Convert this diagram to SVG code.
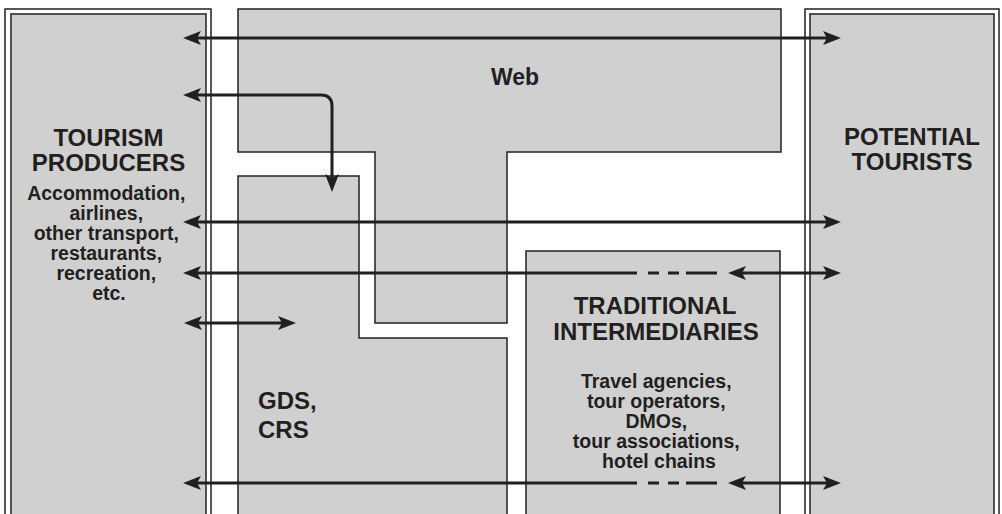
<svg xmlns="http://www.w3.org/2000/svg" width="1002" height="514" viewBox="0 0 1002 514">
<style>
.box{fill:#d0d0d0;stroke:#231f20;stroke-width:1.5}
.frame{fill:none;stroke:#231f20;stroke-width:1.5}
.t{font-family:"Liberation Sans",Arial,sans-serif;font-weight:bold;fill:#231f20}
.h{font-size:24px}
.s{font-size:19.5px}
.c{stroke:#231f20;stroke-width:3;fill:none}
</style>
<defs>
<marker id="ah" viewBox="0 0 18 14" refX="8" refY="7" markerWidth="18" markerHeight="14" markerUnits="userSpaceOnUse" orient="auto-start-reverse">
<path d="M0,0 L18,7 L0,14 L4,7 Z" fill="#231f20"/>
</marker>
</defs>
<rect width="1002" height="514" fill="#ffffff"/>
<g id="producers">
<rect class="frame" x="5" y="9" width="206" height="520"/>
<rect class="box" x="11" y="14" width="195" height="520"/>
<text class="t h" text-anchor="middle" x="108.5" y="146">TOURISM</text>
<text class="t h" text-anchor="middle" x="108.5" y="171">PRODUCERS</text>
<text class="t s" text-anchor="middle" x="109">
<tspan x="109" y="200">Accommodation,</tspan>
<tspan x="109" y="220">airlines,</tspan>
<tspan x="109" y="240">other transport,</tspan>
<tspan x="109" y="260">restaurants,</tspan>
<tspan x="109" y="280">recreation,</tspan>
<tspan x="109" y="300">etc.</tspan>
</text>
</g>
<g id="tourists">
<rect class="frame" x="805" y="9" width="194" height="520"/>
<rect class="box" x="810" y="14" width="184" height="520"/>
<text class="t h" text-anchor="middle" x="912" y="145">POTENTIAL</text>
<text class="t h" text-anchor="middle" x="912" y="170">TOURISTS</text>
</g>
<g id="web">
<path class="box" d="M238,9 H781 V152 H507 V323 H375 V152 H238 Z"/>
<text class="t" font-size="23" text-anchor="middle" x="515" y="85">Web</text>
</g>
<g id="gds">
<path class="box" d="M238,530 V176 H359 V338 H507 V530"/>
<text class="t h" x="258" y="409">GDS,</text>
<text class="t h" x="258" y="438">CRS</text>
</g>
<g id="intermediaries">
<path class="box" d="M526,530 V251 H780 V530"/>
<text class="t h" text-anchor="middle" x="655" y="314">TRADITIONAL</text>
<text class="t h" text-anchor="middle" x="656" y="340">INTERMEDIARIES</text>
<text class="t s" text-anchor="middle">
<tspan x="659" y="388">Travel agencies,</tspan>
<tspan x="659" y="408">tour operators,</tspan>
<tspan x="659" y="428">DMOs,</tspan>
<tspan x="659" y="448">tour associations,</tspan>
<tspan x="659" y="468">hotel chains</tspan>
</text>
</g>
<g id="connectors">
<line class="c" x1="193" y1="38" x2="831" y2="38" marker-start="url(#ah)" marker-end="url(#ah)"/>
<path class="c" d="M193,95 H321 Q332,95 332,106 V182" marker-start="url(#ah)" marker-end="url(#ah)"/>
<line class="c" x1="193" y1="222" x2="831" y2="222" marker-start="url(#ah)" marker-end="url(#ah)"/>
<line class="c" x1="193" y1="273" x2="637" y2="273" marker-start="url(#ah)"/>
<path class="c" d="M648,273 H659 M668,273 H679 M686,273 H717"/>
<line class="c" x1="738" y1="273" x2="831" y2="273" marker-start="url(#ah)" marker-end="url(#ah)"/>
<line class="c" x1="194" y1="323" x2="286" y2="323" marker-start="url(#ah)" marker-end="url(#ah)"/>
<line class="c" x1="193" y1="483" x2="637" y2="483" marker-start="url(#ah)"/>
<path class="c" d="M648,483 H659 M668,483 H679 M686,483 H717"/>
<line class="c" x1="738" y1="483" x2="831" y2="483" marker-start="url(#ah)" marker-end="url(#ah)"/>
</g>
</svg>
